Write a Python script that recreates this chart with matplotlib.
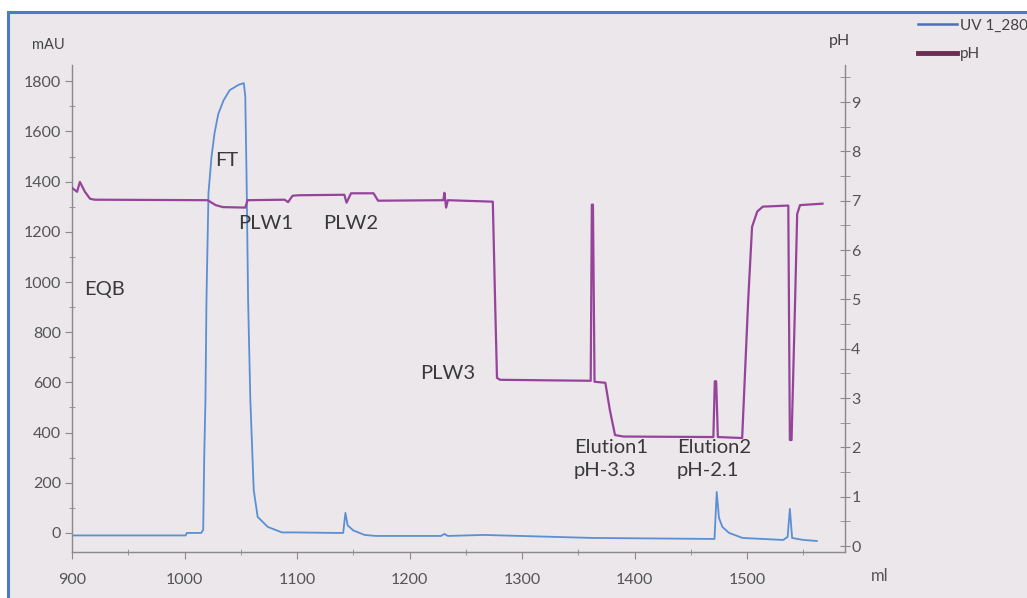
import matplotlib.pyplot as plt
from matplotlib.lines import Line2D
from matplotlib.patches import Rectangle
from matplotlib.ticker import MultipleLocator

# UV 1_280 trace (ml, mAU)
uv_ml = [900, 1001, 1002, 1014.8, 1016.6, 1017.5, 1018.6, 1019.5, 1021.3, 1024, 1026.7,
         1030, 1034.8, 1040.2, 1044, 1048, 1052.7, 1054, 1055.2, 1056.5, 1058.5, 1061.5,
         1065, 1074, 1086.6, 1100, 1134, 1141, 1143, 1145, 1150, 1160, 1170, 1228,
         1231, 1234, 1266, 1363, 1471, 1473, 1475, 1478, 1484, 1496, 1532, 1536,
         1538, 1540, 1550, 1562]
uv_mau = [-10, -10, 0, 0, 12, 300, 530, 928, 1355, 1500, 1594,
          1670, 1725, 1765, 1775, 1786, 1793, 1740, 1400, 930, 530, 171,
          64, 24, 2, 2, 0, 0, 80, 30, 10, -8, -12, -12,
          -4, -12, -8, -20, -24, 163, 60, 24, 0, -20, -28, -16,
          96, -20, -28, -32]

# pH trace (ml, pH)
ph_ml = [900, 904.5, 907, 911.5, 916, 920, 1020.5, 1027.7, 1034, 1054, 1056, 1089,
         1092, 1096, 1101, 1142, 1144, 1148, 1168, 1172, 1230, 1231, 1232.5, 1234,
         1274, 1276, 1277.7, 1280.4, 1361, 1362, 1363, 1364.4, 1374, 1378, 1382.6,
         1390, 1470, 1471.3, 1472.5, 1474, 1495.6, 1501, 1504.4, 1509, 1514, 1535.6,
         1536.6, 1538, 1539.5, 1542.7, 1544.5, 1547, 1567]
ph_val = [7.26, 7.18, 7.38, 7.18, 7.04, 7.02, 7.01, 6.91, 6.87, 6.86, 7.01, 7.02,
          6.97, 7.10, 7.11, 7.12, 6.96, 7.15, 7.15, 7.00, 7.01, 7.16, 6.86, 7.01,
          6.98, 4.99, 3.41, 3.37, 3.35, 6.92, 6.92, 3.33, 3.31, 2.76, 2.25,
          2.22, 2.21, 3.34, 3.34, 2.21, 2.19, 5.00, 6.47, 6.78, 6.88, 6.90,
          6.90, 2.15, 2.15, 5.01, 6.73, 6.91, 6.94]

# annotations: text, ml, mAU (left edge / vertical centre)
notes = ['EQB', 'FT', 'PLW1', 'PLW2', 'PLW3', 'Elution1\npH-3.3', 'Elution2\npH-2.1']
note_ml = [911, 1027, 1047.5, 1123.5, 1209, 1346, 1437.5]
note_mau = [972, 1486, 1235, 1235, 637, 295, 295]

uv_color = '#5b8fd4'
ph_color = '#96449a'
bg = '#ebe7ea'
tick_c = '#555555'
spine_c = '#8a8a8a'

plt.rcParams['font.family'] = ['Lato', 'DejaVu Sans']

fig = plt.figure(figsize=(10.27, 5.98), dpi=100, facecolor='white')
# photo frame, only left and top edges visible
fig.patches.append(Rectangle((8 / 1027, -0.1), 1.2, 1.1 - 12 / 598,
                             transform=fig.transFigure, facecolor=bg,
                             edgecolor='#4a7cc6', linewidth=2.2, zorder=-5))

ax = fig.add_axes([72 / 1027, 1 - 552 / 598, (845 - 72) / 1027, (552 - 65) / 598])
ax.patch.set_alpha(0)
ax2 = ax.twinx()
ax2.patch.set_alpha(0)

ax.plot(uv_ml, uv_mau, color=uv_color, lw=1.3, zorder=2)
ax2.plot(ph_ml, ph_val, color=ph_color, lw=1.6, zorder=3)

ax.set_xlim(900, 1587)
ax.set_ylim(-76, 1865)
ax2.set_ylim(-0.12, 9.75)

ax.xaxis.set_major_locator(MultipleLocator(100))
ax.xaxis.set_minor_locator(MultipleLocator(50))
ax.yaxis.set_major_locator(MultipleLocator(200))
ax.yaxis.set_minor_locator(MultipleLocator(100))
ax2.yaxis.set_major_locator(MultipleLocator(1))
ax2.yaxis.set_minor_locator(MultipleLocator(0.5))

for s in ['top', 'right']:
    ax.spines[s].set_visible(False)
for s in ['top', 'left', 'bottom']:
    ax2.spines[s].set_visible(False)
for a in (ax, ax2):
    for s in a.spines.values():
        s.set_color(spine_c)
        s.set_linewidth(1.0)

ax.tick_params(axis='both', which='major', direction='out', length=5, color=spine_c,
               labelcolor=tick_c, labelsize=11.5, pad=3)
ax.tick_params(axis='both', which='minor', direction='inout', length=5, color=spine_c)
ax.tick_params(axis='x', which='major', pad=10)
ax2.tick_params(axis='y', which='both', direction='inout', length=7, color=spine_c,
                labelcolor=tick_c, labelsize=11.5, pad=1)

for t, x, y in zip(notes, note_ml, note_mau):
    ax2.text(x, ax2.transData.inverted().transform(ax.transData.transform((x, y)))[1], t,
             fontsize=14.5, color='#3a3a3a', va='center', ha='left',
             linespacing=1.45, zorder=4)

fig.text(48 / 1027, 1 - 45 / 598, 'mAU', fontsize=10.5, color='#444444', ha='center', va='center')
fig.text(839 / 1027, 1 - 41 / 598, 'pH', fontsize=11.5, color='#444444', ha='center', va='center')
fig.text(880 / 1027, 1 - 576 / 598, 'ml', fontsize=12, color='#555555', ha='center', va='center')

handles = [Line2D([], [], color='#4d6fb5', lw=1.8),
           Line2D([], [], color='#6b2c55', lw=3.5)]
fig.legend(handles, ['UV 1_280', 'pH'], loc='upper left',
           bbox_to_anchor=(910 / 1027, 1 - 11 / 598), frameon=False, fontsize=11,
           handlelength=2.6, handletextpad=0.15, labelspacing=0.95, borderpad=0,
           labelcolor='#444444')

fig.savefig('out.png', dpi=100, facecolor='white')
